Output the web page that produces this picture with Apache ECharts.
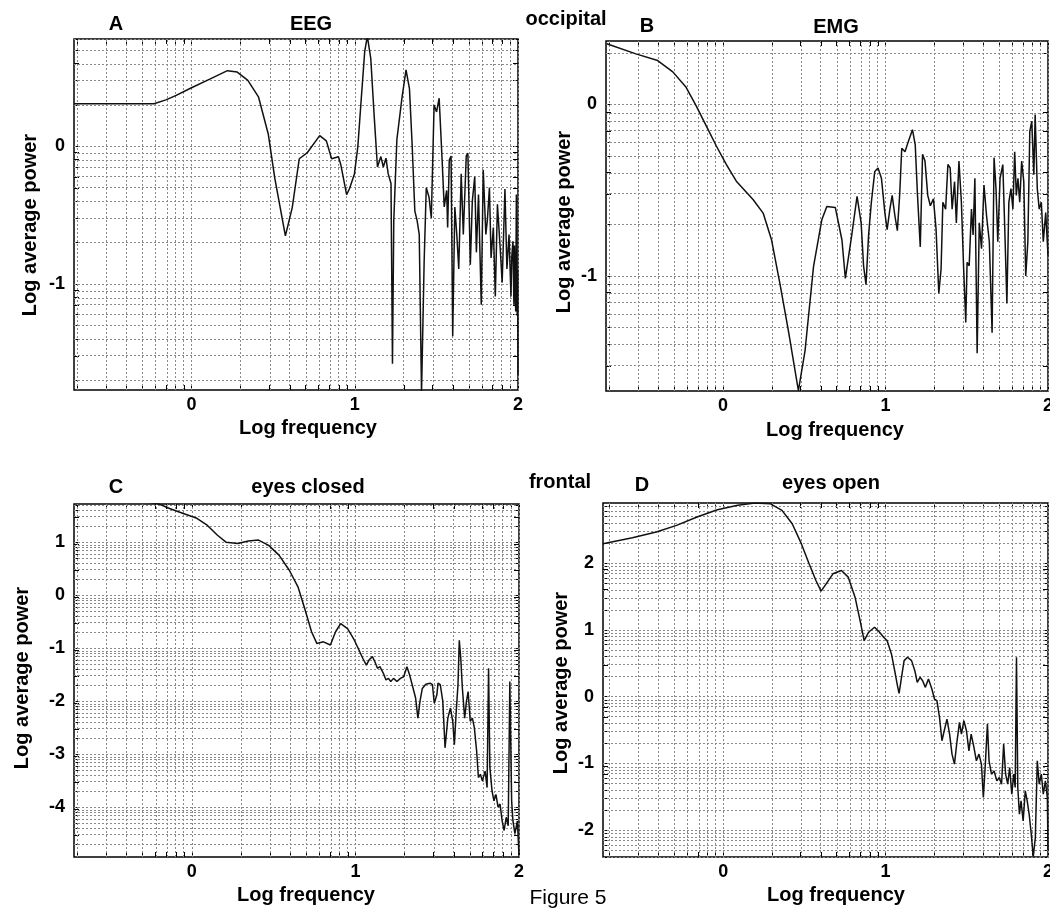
<!DOCTYPE html>
<html><head><meta charset="utf-8">
<script src="https://cdn.jsdelivr.net/npm/echarts@6/dist/echarts.min.js"></script>
<style>html,body{margin:0;padding:0;background:#fff}#c{width:1050px;height:912px}</style>
</head><body><div id="c"></div>
<script>
// ---- tick labels ----
const xTickLabels = [0, 1, 2];
const yTicksEEG = [-1, 0];
const yTicksEMG = [-1, 0];
const yTicksClosed = [-4, -3, -2, -1, 0, 1];
const yTicksOpen = [-2, -1, 0, 1, 2];

// ---- panel texts ----
const panelLetters = ['A', 'B', 'C', 'D'];
const panelTitles = ['EEG', 'EMG', 'eyes closed', 'eyes open'];
const xAxisName = 'Log frequency';
const yAxisName = 'Log average power';
const groupLabels = ['occipital', 'frontal'];
const figureCaption = 'Figure 5';

// ---- series values [log frequency, log average power] ----
const eegSpectrum = [[-0.72,0.31],[-0.55,0.31],[-0.23,0.31],[-0.157,0.338],[-0.094,0.37],[0,0.426],[0.115,0.49],[0.22,0.55],[0.28,0.54],[0.345,0.48],[0.41,0.36],[0.47,0.09],[0.51,-0.23],[0.575,-0.65],[0.617,-0.445],[0.66,-0.09],[0.71,-0.045],[0.785,0.078],[0.826,0.04],[0.858,-0.09],[0.9,-0.075],[0.915,-0.136],[0.95,-0.35],[0.967,-0.31],[0.998,-0.2],[1.019,0],[1.04,0.35],[1.061,0.69],[1.077,0.8],[1.098,0.64],[1.119,0.22],[1.139,-0.15],[1.16,-0.074],[1.175,-0.15],[1.191,-0.086],[1.205,-0.2],[1.222,-0.27],[1.231,-1.58],[1.239,-0.54],[1.258,0.05],[1.289,0.35],[1.314,0.555],[1.335,0.42],[1.351,0.025],[1.368,-0.47],[1.382,-0.54],[1.395,-0.64],[1.409,-1.79],[1.425,-0.84],[1.438,-0.3],[1.455,-0.37],[1.469,-0.52],[1.486,0.3],[1.501,0.25],[1.517,0.35],[1.534,-0.07],[1.548,-0.44],[1.563,-0.32],[1.569,-0.59],[1.579,-0.1],[1.59,-0.07],[1.6,-1.38],[1.613,-0.44],[1.625,-0.64],[1.637,-0.89],[1.652,-0.2],[1.665,-0.64],[1.683,-0.07],[1.693,-0.05],[1.708,-0.86],[1.72,-0.4],[1.735,-0.22],[1.745,-0.77],[1.758,-0.35],[1.775,-1.15],[1.787,-0.17],[1.803,-0.64],[1.812,-0.54],[1.825,-0.3],[1.835,-0.81],[1.849,-0.59],[1.861,-1.09],[1.874,-0.42],[1.891,-0.74],[1.903,-0.99],[1.92,-0.31],[1.932,-0.89],[1.945,-0.64],[1.957,-1.09],[1.962,-0.8],[1.969,-0.69],[1.975,-1.15],[1.978,-0.72],[1.982,-0.99],[1.986,-1.2],[1.99,-0.35],[1.995,-1.23],[1.998,-0.9],[2.0,-1.66]];

const emgSpectrum = [[-0.715,0.354],[-0.536,0.295],[-0.402,0.256],[-0.309,0.19],[-0.227,0.1],[-0.165,-0.008],[-0.103,-0.125],[-0.041,-0.242],[0.021,-0.35],[0.082,-0.447],[0.186,-0.555],[0.247,-0.633],[0.299,-0.79],[0.35,-1.043],[0.402,-1.316],[0.464,-1.668],[0.505,-1.434],[0.557,-0.945],[0.608,-0.672],[0.639,-0.594],[0.691,-0.6],[0.732,-0.79],[0.753,-1.014],[0.794,-0.75],[0.825,-0.535],[0.85,-0.69],[0.865,-0.94],[0.88,-1.05],[0.896,-0.76],[0.913,-0.57],[0.934,-0.39],[0.954,-0.37],[0.975,-0.43],[0.996,-0.63],[1.01,-0.73],[1.027,-0.61],[1.041,-0.53],[1.058,-0.65],[1.073,-0.735],[1.087,-0.53],[1.1,-0.255],[1.12,-0.275],[1.141,-0.215],[1.166,-0.147],[1.183,-0.235],[1.197,-0.53],[1.214,-0.83],[1.228,-0.29],[1.243,-0.33],[1.26,-0.53],[1.276,-0.59],[1.295,-0.55],[1.311,-0.725],[1.328,-1.1],[1.342,-0.96],[1.353,-0.57],[1.37,-0.61],[1.384,-0.35],[1.398,-0.37],[1.41,-0.61],[1.425,-0.45],[1.436,-0.69],[1.452,-0.33],[1.467,-0.57],[1.481,-0.96],[1.494,-1.27],[1.502,-0.92],[1.515,-0.94],[1.529,-0.61],[1.539,-0.76],[1.55,-0.43],[1.564,-1.45],[1.577,-0.69],[1.591,-0.84],[1.606,-0.47],[1.622,-0.65],[1.639,-0.8],[1.656,-1.33],[1.668,-0.31],[1.68,-0.49],[1.691,-0.8],[1.705,-0.43],[1.722,-0.35],[1.734,-0.725],[1.747,-1.16],[1.759,-0.57],[1.772,-0.49],[1.784,-0.61],[1.795,-0.275],[1.805,-0.53],[1.815,-0.43],[1.826,-0.57],[1.838,-0.33],[1.851,-0.45],[1.863,-1.0],[1.876,-0.8],[1.888,-0.157],[1.9,-0.098],[1.913,-0.41],[1.921,-0.059],[1.934,-0.49],[1.946,-0.61],[1.959,-0.57],[1.971,-0.8],[1.986,-0.63],[2.0,-0.88]];

const eyesClosedSpectrum = [[-0.72,1.95],[-0.45,1.85],[-0.2,1.72],[-0.136,1.635],[-0.052,1.54],[0.031,1.45],[0.094,1.32],[0.157,1.13],[0.209,1.0],[0.282,0.975],[0.345,1.02],[0.408,1.04],[0.47,0.94],[0.533,0.755],[0.596,0.47],[0.649,0.157],[0.69,-0.25],[0.732,-0.69],[0.764,-0.91],[0.805,-0.88],[0.847,-0.94],[0.879,-0.69],[0.91,-0.535],[0.952,-0.63],[0.994,-0.85],[1.045,-1.19],[1.067,-1.32],[1.083,-1.225],[1.104,-1.16],[1.119,-1.256],[1.135,-1.38],[1.15,-1.35],[1.171,-1.475],[1.187,-1.6],[1.202,-1.57],[1.216,-1.63],[1.233,-1.57],[1.254,-1.63],[1.275,-1.57],[1.295,-1.54],[1.315,-1.35],[1.332,-1.51],[1.353,-1.76],[1.368,-1.94],[1.382,-2.32],[1.395,-2.0],[1.409,-1.76],[1.43,-1.68],[1.457,-1.66],[1.471,-1.69],[1.482,-2.04],[1.498,-1.88],[1.505,-1.66],[1.519,-1.69],[1.534,-2.0],[1.548,-2.88],[1.565,-2.32],[1.581,-2.13],[1.595,-2.38],[1.605,-2.82],[1.615,-2.26],[1.627,-1.69],[1.635,-0.85],[1.644,-1.19],[1.654,-1.76],[1.668,-2.32],[1.679,-2.0],[1.689,-1.82],[1.702,-2.38],[1.715,-2.32],[1.727,-2.5],[1.741,-2.94],[1.752,-3.44],[1.764,-3.38],[1.776,-3.5],[1.793,-3.32],[1.805,-3.63],[1.814,-1.38],[1.822,-3.25],[1.835,-3.69],[1.847,-3.88],[1.859,-3.76],[1.872,-4.0],[1.884,-3.94],[1.897,-4.26],[1.909,-4.44],[1.922,-4.19],[1.934,-4.35],[1.944,-1.63],[1.955,-3.88],[1.963,-4.26],[1.975,-4.5],[1.99,-4.26],[2.0,-4.9]];

const eyesOpenSpectrum = [[-0.74,2.29],[-0.559,2.38],[-0.412,2.465],[-0.287,2.565],[-0.161,2.69],[-0.036,2.8],[0.09,2.865],[0.195,2.9],[0.289,2.89],[0.362,2.79],[0.425,2.59],[0.477,2.315],[0.529,1.99],[0.571,1.74],[0.603,1.58],[0.634,1.69],[0.676,1.84],[0.728,1.89],[0.77,1.79],[0.812,1.49],[0.843,1.14],[0.868,0.84],[0.895,0.965],[0.932,1.04],[0.963,0.965],[0.988,0.89],[1.009,0.84],[1.036,0.64],[1.056,0.39],[1.073,0.165],[1.083,0.05],[1.098,0.29],[1.114,0.54],[1.135,0.59],[1.16,0.54],[1.18,0.39],[1.195,0.215],[1.212,0.29],[1.228,0.24],[1.245,0.14],[1.264,0.265],[1.285,0.115],[1.301,-0.035],[1.316,-0.06],[1.332,-0.31],[1.347,-0.66],[1.361,-0.51],[1.378,-0.335],[1.394,-0.56],[1.409,-0.86],[1.424,-1.01],[1.44,-0.66],[1.455,-0.385],[1.467,-0.56],[1.482,-0.36],[1.498,-0.51],[1.513,-0.81],[1.527,-0.56],[1.544,-0.76],[1.559,-0.96],[1.575,-0.86],[1.59,-1.01],[1.602,-1.51],[1.613,-1.06],[1.627,-0.41],[1.637,-0.96],[1.652,-1.16],[1.668,-1.11],[1.685,-1.26],[1.7,-1.21],[1.714,-1.31],[1.727,-0.71],[1.739,-1.16],[1.752,-1.31],[1.764,-1.06],[1.777,-1.46],[1.789,-1.16],[1.798,-1.36],[1.806,0.59],[1.814,-1.36],[1.824,-1.76],[1.834,-1.56],[1.847,-1.86],[1.86,-1.41],[1.872,-1.56],[1.884,-1.76],[1.897,-2.06],[1.909,-2.4],[1.922,-2.11],[1.934,-0.96],[1.946,-1.31],[1.959,-1.16],[1.971,-1.46],[1.984,-1.26],[1.996,-1.51],[2.0,-2.3]];

const FONT = '"Liberation Sans", Arial, Helvetica, sans-serif';

// decade grid positions n + log10(k)
function logGrid(min, max) {
  const out = [];
  for (let n = Math.floor(min); n <= Math.ceil(max); n++) {
    for (let k = 1; k <= 9; k++) {
      const v = n + Math.log10(k);
      if (v >= min - 1e-9 && v <= max + 1e-9) out.push(+v.toFixed(4));
    }
  }
  return out;
}

const panels = [
  { data: eegSpectrum, xr: [-0.72, 2], yr: [-1.77, 0.78], yt: yTicksEEG,
    grid: { left: 74, top: 39, width: 444, height: 351 } },
  { data: emgSpectrum, xr: [-0.72, 2], yr: [-1.67, 0.37], yt: yTicksEMG,
    grid: { left: 606, top: 41, width: 442, height: 350 } },
  { data: eyesClosedSpectrum, xr: [-0.72, 2], yr: [-4.94, 1.72], yt: yTicksClosed,
    grid: { left: 74, top: 504, width: 445, height: 353 } },
  { data: eyesOpenSpectrum, xr: [-0.74, 2], yr: [-2.4, 2.9], yt: yTicksOpen,
    grid: { left: 603, top: 503, width: 445, height: 354 } }
];

// text placement (pixels)
const letterPos = [[116, 24], [647, 26], [116, 487], [642, 485]];
const titlePos = [[311, 24], [836, 27], [308, 487], [831, 483]];
const yNamePos = [[30, 225], [564, 222], [22, 678], [561, 683]];
const xNamePos = [[308, 428], [835, 430], [306, 895], [836, 895]];

const option = { animation: false, backgroundColor: '#fff', grid: [], xAxis: [], yAxis: [], series: [], graphic: [] };

const labelStyle = { fontSize: 18, fontWeight: 'bold', color: '#000', fontFamily: FONT };

panels.forEach((p, i) => {
  option.grid.push(Object.assign({ show: true, borderColor: '#000', borderWidth: 1.5,
    backgroundColor: 'transparent', outerBoundsMode: 'none', containLabel: false }, p.grid));
  const xs = logGrid(p.xr[0], p.xr[1]);
  const ys = logGrid(p.yr[0], p.yr[1]);
  const tick = vals => ({ show: true, inside: true, length: 5, customValues: vals, lineStyle: { color: '#000', width: 1 } });
  ['bottom', 'top'].forEach(pos => {
    option.xAxis.push({
      type: 'value', gridIndex: i, position: pos, min: p.xr[0], max: p.xr[1],
      axisLine: { show: false, onZero: false }, splitLine: { show: false },
      axisTick: tick(xs),
      axisLabel: pos === 'bottom' ? Object.assign({ customValues: xTickLabels, margin: 6 }, labelStyle) : { show: false }
    });
  });
  ['left', 'right'].forEach(pos => {
    option.yAxis.push({
      type: 'value', gridIndex: i, position: pos, min: p.yr[0], max: p.yr[1],
      axisLine: { show: false, onZero: false }, splitLine: { show: false },
      axisTick: tick(ys),
      axisLabel: pos === 'left' ? Object.assign({ customValues: p.yt, margin: 9 }, labelStyle) : { show: false }
    });
  });
  option.series.push({
    type: 'line', xAxisIndex: 2 * i, yAxisIndex: 2 * i, data: p.data,
    symbol: 'none', showSymbol: false, clip: true, z: 3,
    lineStyle: { color: '#111', width: 1.5 },
    emphasis: { disabled: true },
    markLine: {
      silent: true, z: 1, animation: false, symbol: ['none', 'none'],
      label: { show: false }, emphasis: { disabled: true },
      lineStyle: { color: '#8a8a8a', type: [2, 2], width: 1 },
      data: xs.map(v => ({ xAxis: v })).concat(ys.map(v => ({ yAxis: v })))
    }
  });

  const txt = (t, pos, size, weight, rot) => ({
    type: 'text', x: pos[0], y: pos[1], rotation: rot || 0, z: 10,
    style: { text: t, fill: '#000', font: weight + ' ' + size + 'px ' + FONT,
             textAlign: 'center', textVerticalAlign: 'middle', align: 'center', verticalAlign: 'middle' }
  });
  option.graphic.push(txt(panelLetters[i], letterPos[i], 20, 'bold'));
  option.graphic.push(txt(panelTitles[i], titlePos[i], 20, 'bold'));
  option.graphic.push(txt(yAxisName, yNamePos[i], 20, 'bold', Math.PI / 2));
  option.graphic.push(txt(xAxisName, xNamePos[i], 20, 'bold'));
});

const mk = (t, x, y, size, weight) => ({
  type: 'text', x: x, y: y, z: 10,
  style: { text: t, fill: '#000', font: weight + ' ' + size + 'px ' + FONT,
           textAlign: 'center', textVerticalAlign: 'middle', align: 'center', verticalAlign: 'middle' }
});
option.graphic.push(mk(groupLabels[0], 566, 19, 20, 'bold'));
option.graphic.push(mk(groupLabels[1], 560, 482, 20, 'bold'));
option.graphic.push(mk(figureCaption, 568, 898, 21, 'normal'));

const chart = echarts.init(document.getElementById('c'), null, { renderer: 'canvas' });
chart.setOption(option);
</script>
</body></html>
